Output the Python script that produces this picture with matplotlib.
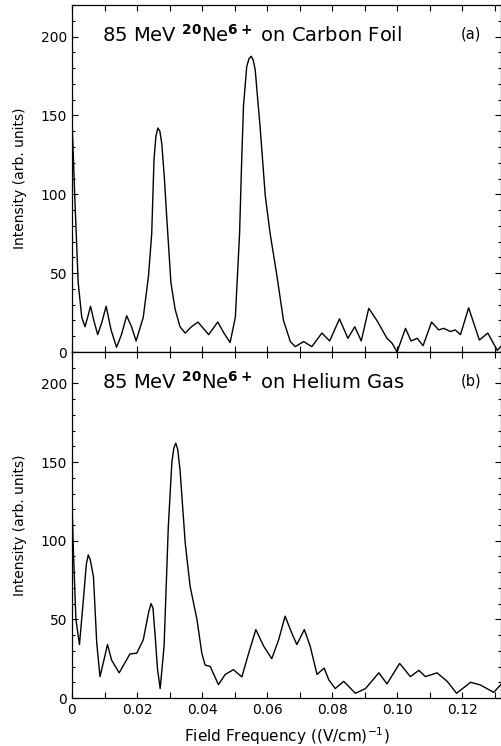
import numpy as np
import matplotlib.pyplot as plt
from matplotlib.ticker import MultipleLocator

# panel (a): 85 MeV 20Ne6+ on carbon foil
freq_a = [0.0, 0.0009, 0.0019, 0.003, 0.004, 0.0048, 0.0057, 0.0067, 0.0079,
          0.0092, 0.0105, 0.012, 0.0137, 0.0152, 0.0168, 0.0183, 0.0197,
          0.0219, 0.0235, 0.0245, 0.0252, 0.0258, 0.0264, 0.0270, 0.0276,
          0.0284, 0.0291, 0.0304, 0.0317, 0.0332, 0.0348, 0.0367, 0.0387,
          0.042, 0.0448, 0.0467, 0.0486, 0.0502, 0.0515, 0.0521, 0.0527,
          0.0537, 0.0544, 0.0551, 0.0557, 0.0563, 0.057, 0.0578, 0.0594,
          0.0609, 0.063, 0.065, 0.0671, 0.0686, 0.0712, 0.0737, 0.0768,
          0.0792, 0.0822, 0.0848, 0.0869, 0.0889, 0.0912, 0.0937, 0.0968,
          0.0984, 0.0999, 0.1025, 0.1042, 0.1061, 0.1079, 0.1105, 0.1127,
          0.1142, 0.1163, 0.1178, 0.1194, 0.1219, 0.1252, 0.1278, 0.1307,
          0.1322]
inten_a = [147, 96, 44, 22, 16, 22, 29, 20, 11,
           19, 29, 14, 3, 11, 23, 16, 7,
           22, 48, 75, 122, 137, 142, 140, 132,
           110, 86, 44, 27, 16, 12, 16, 19,
           11, 19, 12, 6, 22, 75, 118, 156,
           181, 186, 187.5, 185, 179, 162, 143, 99,
           75, 48, 20, 6.6, 3.4, 6.6, 3.4, 12,
           7, 21, 8.7, 16, 7, 27.7, 20, 8.7,
           5.5, 0, 15, 7, 8.7, 4, 19, 14,
           15, 13, 14, 11, 28, 7.6, 12, 1,
           4.4]

# panel (b): 85 MeV 20Ne6+ on helium gas
freq_b = [0.0, 0.0004, 0.0012, 0.0023, 0.0035, 0.0044, 0.005, 0.0056, 0.0066,
          0.0076, 0.0086, 0.0098, 0.0109, 0.0122, 0.0145, 0.0178, 0.0199,
          0.0219, 0.0236, 0.0243, 0.0249, 0.0255, 0.0263, 0.0271, 0.0283,
          0.0296, 0.0307, 0.0313, 0.0319, 0.0325, 0.0332, 0.0348, 0.0363,
          0.0384, 0.0399, 0.0409, 0.0425, 0.045, 0.0471, 0.0496, 0.0522,
          0.0543, 0.0565, 0.0589, 0.0614, 0.0635, 0.0655, 0.0676, 0.0691,
          0.0714, 0.0732, 0.0753, 0.0775, 0.0789, 0.0809, 0.0835, 0.0871,
          0.0902, 0.0943, 0.0968, 0.1007, 0.104, 0.1066, 0.1086, 0.1122,
          0.1153, 0.1182, 0.1225, 0.1255, 0.1296, 0.1322]
inten_b = [125, 95, 50, 34, 62.6, 85, 91, 88, 77,
           35, 13.6, 24, 34, 24, 16, 28, 28.5,
           37, 55, 60, 57, 41, 18, 6, 33,
           109, 150, 159, 162, 158, 145, 98.5, 71,
           50, 28.5, 21, 20, 8.5, 15, 18, 13.4,
           28.5, 43.5, 33, 25, 37, 52, 41, 34,
           43.5, 33, 15, 19, 11.6, 6, 10.6, 3,
           6, 16, 9, 22, 13.6, 17.6, 13.6, 16,
           10.6, 3, 10, 8.3, 3.6, 9.4]

titles = [r'85 MeV $^{\mathbf{20}}$Ne$^{\mathbf{6+}}$ on Carbon Foil',
          r'85 MeV $^{\mathbf{20}}$Ne$^{\mathbf{6+}}$ on Helium Gas']
tags = ['(a)', '(b)']

fig = plt.figure(figsize=(5.02, 7.46), dpi=100)
left, width = 72 / 502, 429.5 / 502
ax_a = fig.add_axes([left, 1 - 352 / 746, width, 347 / 746])
ax_b = fig.add_axes([left, 1 - 698 / 746, width, 346 / 746])

for ax, fx, iy, title, tag in zip([ax_a, ax_b], [freq_a, freq_b],
                                  [inten_a, inten_b], titles, tags):
    ax.plot(fx, iy, color='black', lw=1.0)
    ax.set_xlim(0, 0.132)
    ax.set_ylim(0, 220)
    ax.xaxis.set_major_locator(MultipleLocator(0.02))
    ax.xaxis.set_minor_locator(MultipleLocator(0.01))
    ax.yaxis.set_major_locator(MultipleLocator(50))
    ax.yaxis.set_minor_locator(MultipleLocator(10))
    ax.tick_params(which='both', direction='in', top=True, right=True,
                   labelsize=10, width=0.8)
    ax.tick_params(which='major', length=4)
    ax.tick_params(which='minor', length=2)
    ax.tick_params(axis='x', which='minor', length=4)
    for sp in ax.spines.values():
        sp.set_linewidth(0.9)
    ax.set_ylabel('Intensity (arb. units)', fontsize=10, labelpad=10)
    ax.text(0.07, 0.915, title, transform=ax.transAxes, fontsize=14,
            va='center', ha='left')
    ax.text(0.93, 0.915, tag, transform=ax.transAxes, fontsize=10.5,
            va='center', ha='center')

ax_a.tick_params(axis='x', labelbottom=False)
ax_b.set_xticks([0, 0.02, 0.04, 0.06, 0.08, 0.10, 0.12])
ax_b.set_xticklabels(['0', '0.02', '0.04', '0.06', '0.08', '0.10', '0.12'])
ax_b.set_xlabel(r'Field Frequency ((V/cm)$^{-1}$)', fontsize=11, labelpad=6)

fig.savefig('out.png', dpi=100)
